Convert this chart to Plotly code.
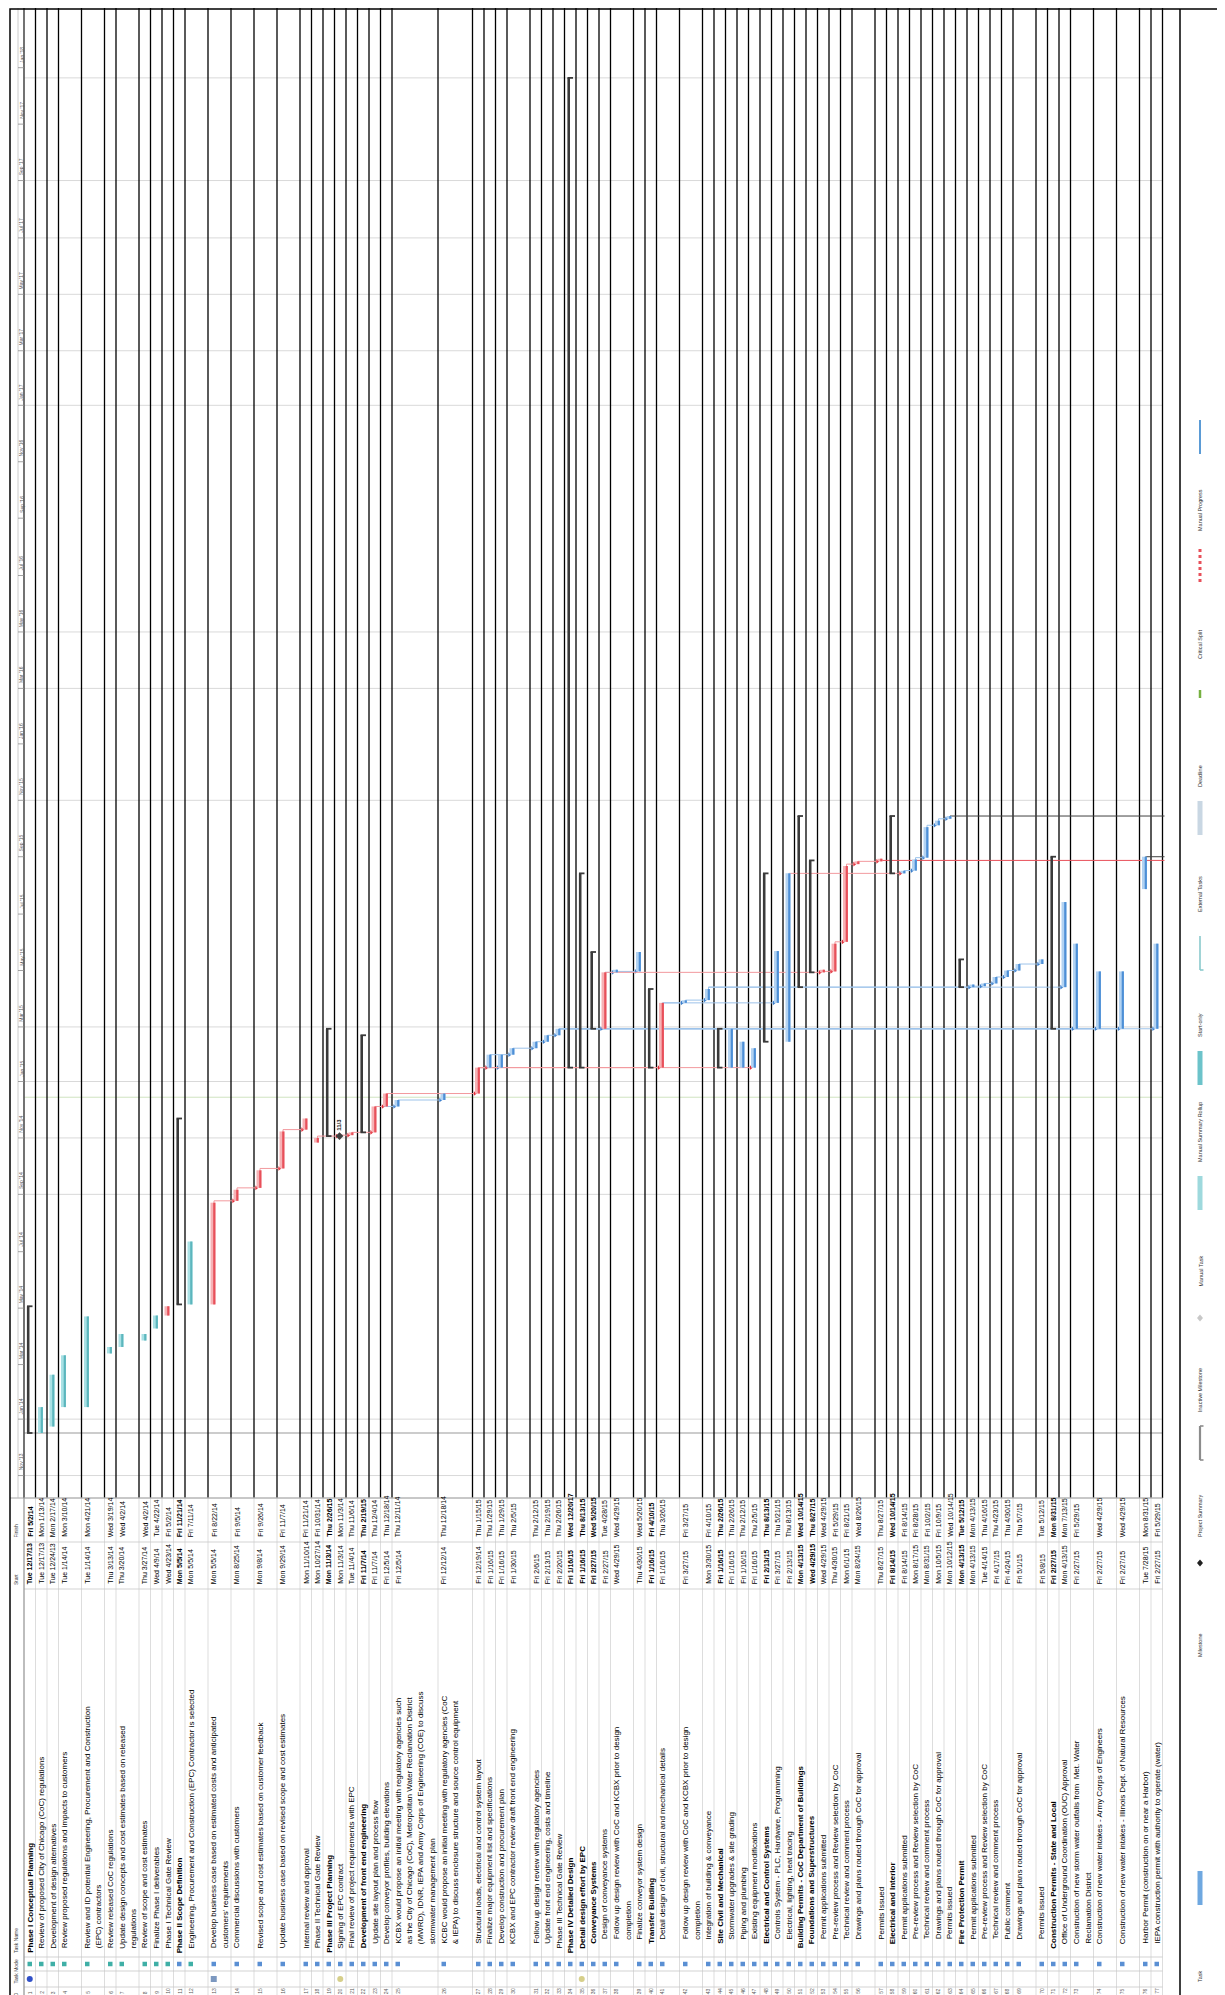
import numpy as np
import pandas as pd
import plotly.graph_objects as go

# ---------------------------------------------------------------- data
task_names = [
    "Phase I Conceptual Planning",
    "Review of proposed City of Chicago (CoC) regulations",
    "Development of design alternatives",
    "Review proposed regulations and impacts to customers",
    "Review and ID potential Engineering, Procurement and Construction\n(EPC) contractors",
    "Review released CoC regulations",
    "Update design concepts and cost estimates based on released\nregulations",
    "Review of scope and cost estimates",
    "Finalize Phase I deliverables",
    "Phase I Technical Gate Review",
    "Phase II Scope Definition",
    "Engineering, Procurement and Construction (EPC) Contractor is selected",
    "Develop business case based on estimated costs and anticipated\ncustomers' requirements",
    "Commercial discussions with customers",
    "Revised scope and cost estimates based on customer feedback",
    "Update business case based on revised scope and cost estimates",
    "Internal review and approval",
    "Phase II Technical Gate Review",
    "Phase III Project Planning",
    "Signing of EPC contract",
    "Final review of project requirements with EPC",
    "Development of front end engineering",
    "Update site layout plan and process flow",
    "Develop conveyor profiles, building elevations",
    "KCBX would propose an initial meeting with regulatory agencies such\nas the City of Chicago (CoC), Metropolitan Water Reclamation District\n(MWRD), IDNR, IEPA and Army Corps of Engineering (COE) to discuss\nstormwater management plan",
    "KCBC would propose an initial meeting with regulatory agencies (CoC\n& IEPA) to discuss enclosure structure and source control equipment",
    "Structural loads, electrical and control system layout",
    "Finalize major equipment list and specifications",
    "Develop construction and procurement plan",
    "KCBX and EPC contractor review draft front end engineering",
    "Follow up design review with regulatory agencies",
    "Update front end engineering, costs and timeline",
    "Phase III Technical Gate Review",
    "Phase IV Detailed Design",
    "Detail design effort by EPC",
    "Conveyance Systems",
    "Design of conveyance systems",
    "Follow up design review with CoC and KCBX prior to design\ncompletion",
    "Finalize conveyor system design",
    "Transfer Building",
    "Detail design of civil, structural and mechanical details",
    "Follow up design review with CoC and KCBX prior to design\ncompletion",
    "Integration of building & conveyance",
    "Site Civil and Mechanical",
    "Stormwater upgrades & site grading",
    "Piping and plumbing",
    "Existing equipment modifications",
    "Electrical and Control Systems",
    "Controls System - PLC, Hardware, Programming",
    "Electrical, lighting, heat tracing",
    "Building Permits - CoC Department of Buildings",
    "Foundations and Superstructures",
    "Permit applications submitted",
    "Pre-review process and Review selection by CoC",
    "Technical review and comment process",
    "Drawings and plans routed through CoC for approval",
    "Permits Issued",
    "Electrical and Interior",
    "Permit applications submitted",
    "Pre-review process and Review selection by CoC",
    "Technical review and comment process",
    "Drawings and plans routed through CoC for approval",
    "Permits issued",
    "Fire Protection Permit",
    "Permit applications submitted",
    "Pre-review process and Review selection by CoC",
    "Technical review and comment process",
    "Public comment",
    "Drawings and plans routed through CoC for approval",
    "Permits issued",
    "Construction Permits - State and Local",
    "Office of Underground Coordination (OUC) Approval",
    "Construction of new storm water outfalls from  Met. Water\nReclamation District",
    "Construction of new water intakes - Army Corps of Engineers",
    "Construction of new water intakes - Illinois Dept. of Natural Resources",
    "Harbor Permit (construction on or near a Harbor)",
    "IEPA construction permit with authority to operate (water)",
]

start_txt = [
    "Tue 12/17/13", "Tue 12/17/13", "Tue 12/24/13", "Tue 1/14/14", "Tue 1/14/14",
    "Thu 3/13/14", "Thu 3/20/14", "Thu 3/27/14", "Wed 4/9/14", "Wed 4/23/14",
    "Mon 5/5/14", "Mon 5/5/14", "Mon 5/5/14", "Mon 8/25/14", "Mon 9/8/14",
    "Mon 9/29/14", "Mon 11/10/14", "Mon 10/27/14", "Mon 11/3/14", "Mon 11/3/14",
    "Tue 11/4/14", "Fri 11/7/14", "Fri 11/7/14", "Fri 12/5/14", "Fri 12/5/14",
    "Fri 12/12/14", "Fri 12/19/14", "Fri 1/16/15", "Fri 1/16/15", "Fri 1/30/15",
    "Fri 2/6/15", "Fri 2/13/15", "Fri 2/20/15", "Fri 1/16/15", "Fri 1/16/15",
    "Fri 2/27/15", "Fri 2/27/15", "Wed 4/29/15", "Thu 4/30/15", "Fri 1/16/15",
    "Fri 1/16/15", "Fri 3/27/15", "Mon 3/30/15", "Fri 1/16/15", "Fri 1/16/15",
    "Fri 1/16/15", "Fri 1/16/15", "Fri 2/13/15", "Fri 3/27/15", "Fri 2/13/15",
    "Mon 4/13/15", "Wed 4/29/15", "Wed 4/29/15", "Thu 4/30/15", "Mon 6/1/15",
    "Mon 8/24/15", "Thu 8/27/15", "Fri 8/14/15", "Fri 8/14/15", "Mon 8/17/15",
    "Mon 8/31/15", "Mon 10/5/15", "Mon 10/12/15", "Mon 4/13/15", "Mon 4/13/15",
    "Tue 4/14/15", "Fri 4/17/15", "Fri 4/24/15", "Fri 5/1/15", "Fri 5/8/15",
    "Fri 2/27/15", "Mon 4/13/15", "Fri 2/27/15", "Fri 2/27/15", "Fri 2/27/15",
    "Tue 7/28/15", "Fri 2/27/15",
]

finish_txt = [
    "Fri 5/2/14", "Mon 1/13/14", "Mon 2/17/14", "Mon 3/10/14", "Mon 4/21/14",
    "Wed 3/19/14", "Wed 4/2/14", "Wed 4/2/14", "Tue 4/22/14", "Fri 5/2/14",
    "Fri 11/21/14", "Fri 7/11/14", "Fri 8/22/14", "Fri 9/5/14", "Fri 9/26/14",
    "Fri 11/7/14", "Fri 11/21/14", "Fri 10/31/14", "Thu 2/26/15", "Mon 11/3/14",
    "Thu 11/6/14", "Thu 2/19/15", "Thu 12/4/14", "Thu 12/18/14", "Thu 12/11/14",
    "Thu 12/18/14", "Thu 1/15/15", "Thu 1/29/15", "Thu 1/29/15", "Thu 2/5/15",
    "Thu 2/12/15", "Thu 2/19/15", "Thu 2/26/15", "Wed 12/20/17", "Thu 8/13/15",
    "Wed 5/20/15", "Tue 4/28/15", "Wed 4/29/15", "Wed 5/20/15", "Fri 4/10/15",
    "Thu 3/26/15", "Fri 3/27/15", "Fri 4/10/15", "Thu 2/26/15", "Thu 2/26/15",
    "Thu 2/12/15", "Thu 2/5/15", "Thu 8/13/15", "Thu 5/21/15", "Thu 8/13/15",
    "Wed 10/14/15", "Thu 8/27/15", "Wed 4/29/15", "Fri 5/29/15", "Fri 8/21/15",
    "Wed 8/26/15", "Thu 8/27/15", "Wed 10/14/15", "Fri 8/14/15", "Fri 8/28/15",
    "Fri 10/2/15", "Fri 10/9/15", "Wed 10/14/15", "Tue 5/12/15", "Mon 4/13/15",
    "Thu 4/16/15", "Thu 4/23/15", "Thu 4/30/15", "Thu 5/7/15", "Tue 5/12/15",
    "Mon 8/31/15", "Mon 7/13/15", "Fri 5/29/15", "Wed 4/29/15", "Wed 4/29/15",
    "Mon 8/31/15", "Fri 5/29/15",
]

# S summary, M manual task, C critical task, N normal task, MS milestone
task_kind = (["S"] + ["M"] * 8 + ["C"] + ["S", "M"] + ["C"] * 6 +
             ["S", "MS", "C", "S", "C", "C", "N", "N", "C"] + ["N"] * 6 +
             ["S", "S", "S", "C", "N", "N", "S", "C", "N", "N", "S", "N", "N", "N",
              "S", "N", "N", "S", "S", "C", "C", "C", "C", "C", "S"] + ["N"] * 5 +
             ["S"] + ["N"] * 6 + ["S"] + ["N"] * 6)

outline_level = ([0] + [1] * 9 + [0] + [1] * 7 + [0, 1, 1, 1] + [2] * 10 + [1] +
                 [0, 1, 2, 3, 3, 3, 2, 3, 3, 3, 2, 3, 3, 3, 2, 3, 3,
                  1, 2, 3, 3, 3, 3, 3, 2, 3, 3, 3, 3, 3, 2, 3, 3, 3, 3, 3, 3,
                  1, 2, 2, 2, 2, 2, 2])

manual_mode_rows = [1, 2, 3, 4, 5, 6, 7, 8, 9, 10, 12]

critical_links = [(13, 14), (14, 15), (15, 16), (16, 17), (18, 20), (20, 21), (21, 23),
                  (23, 24), (24, 27), (27, 28), (27, 41), (27, 47), (37, 53), (53, 54),
                  (54, 55), (55, 56), (56, 57), (50, 59)]
normal_links = [(23, 25), (25, 26), (28, 30), (30, 31), (31, 32), (32, 33), (27, 29),
                (33, 37), (37, 38), (38, 39), (41, 42), (42, 43), (41, 49), (59, 60),
                (60, 61), (61, 62), (62, 63), (43, 65), (65, 66), (66, 67), (67, 68),
                (68, 69), (69, 70), (43, 72), (33, 73), (33, 74), (33, 75), (33, 77)]
# links leaving the printed task list (successors on a later page)
outgoing_links = [(57, "2015-08-28", "C"), (63, "2015-10-15", "S"), (76, "2015-09-01", "S")]

milestone_labels = {20: "11/3"}

timescale_ticks = pd.date_range("2013-11-01", "2018-01-01", freq="2MS")
grid_dates = ["2013-11-01", "2014-01-01", "2014-09-01", "2014-11-01", "2015-01-01",
              "2015-03-01", "2015-11-01", "2016-03-01", "2016-05-01", "2017-01-01",
              "2017-03-01", "2017-05-01", "2017-07-01", "2017-09-01", "2017-12-21"]
status_date = "2014-12-15"
project_start = "2013-12-17"

legend_left = ["Task", "Milestone", "Project Summary", "Inactive Milestone", "Manual Task",
               "Manual Summary Rollup", "Start-only", "External Tasks", "Deadline",
               "Critical Split", "Manual Progress"]
legend_right = ["Split", "Summary", "Inactive Task", "Inactive Summary", "Duration-only",
                "Manual Summary", "Finish-only", "External Milestone", "Critical", "Progress"]

# ---------------------------------------------------------------- layout geometry
W, H = 1225, 1995
row_units = [1, 1, 1, 2, 2, 1, 2, 1, 1, 1, 1, 2, 2, 2, 2, 2, 1, 1, 1, 1, 1, 1, 1, 1, 4, 3,
             1, 1, 1, 2, 1, 1, 1, 1, 1, 1, 1, 2, 1, 1, 2, 2, 1, 1, 1, 1, 1, 1, 1, 1, 1, 1,
             1, 1, 1, 2, 1, 1, 1, 1, 1, 1, 1, 1, 1, 1, 1, 1, 2, 1, 1, 1, 2, 2, 2, 1, 1]
ROW_X0 = 16.0
UNIT = 11.5
cum = np.concatenate([[0], np.cumsum(row_units)[:-1]])
row_top = ROW_X0 + UNIT * cum
row_end = ROW_X0 + UNIT * float(np.sum(row_units))
bar_x = row_top + 5.0

GANTT_BOTTOM = 1490.0
REF_DATE = pd.Timestamp(project_start)
REF_PX = 1425.0
PX_PER_DAY = 0.925

Y_ID, Y_IND, Y_MODE = 1987.0, 1971.0, 1956.0
Y_NAME, Y_START, Y_FINISH = 1946.0, 1577.0, 1530.0
SEP_Y = [1490.0, 1534.0, 1581.0, 1949.0, 1963.0, 1979.0]
LEG_SEP_X, LEG_X1, LEG_X2 = 1172.0, 1192.0, 1212.0
leg_starts = [1975, 1650, 1530, 1405, 1280, 1155, 1030, 905, 780, 652, 524]

FONT = "Liberation Sans, Arial, sans-serif"


def px_to_date(py):
    return REF_DATE + pd.Timedelta(days=(REF_PX - py) / PX_PER_DAY)


def date_to_px(d):
    return REF_PX - (pd.Timestamp(d) - REF_DATE).total_seconds() / 86400.0 * PX_PER_DAY


def P(py):
    return 1.0 - py / H


def ds(d):
    return pd.Timestamp(d).strftime("%Y-%m-%d %H:%M")


def parse(s):
    return pd.to_datetime(s.split()[1], format="%m/%d/%y")


start_dt = [parse(s) for s in start_txt]
finish_dt = [parse(s) for s in finish_txt]
end_dt = [max(f + pd.Timedelta(days=1), s + pd.Timedelta(days=2.8)) for s, f in zip(start_dt, finish_dt)]

fig = go.Figure()
shapes = []
annotations = []


def hline_px(x0, x1, py, color, width=1.0, dash=None):
    shapes.append(dict(type="line", xref="x", yref="paper", x0=x0, x1=x1, y0=P(py), y1=P(py),
                       line=dict(color=color, width=width, dash=dash), layer="below"))


def vline_px(x, py0, py1, color, width=1.0, dash=None, layer="below"):
    shapes.append(dict(type="line", xref="x", yref="paper", x0=x, x1=x, y0=P(py0), y1=P(py1),
                       line=dict(color=color, width=width, dash=dash), layer=layer))


def text_up(x, py, txt, size=8, color="#000000", bold=False, xref="x"):
    t = "<b>%s</b>" % txt if bold else txt
    annotations.append(dict(x=x, y=P(py), xref=xref, yref="paper", text=t, showarrow=False,
                            textangle=-90, xanchor="center", yanchor="bottom", borderpad=0,
                            font=dict(family=FONT, size=size, color=color)))


# ---------------------------------------------------------------- grid / frame
for gd in grid_dates:
    hline_px(ROW_X0, row_end, date_to_px(gd), "#D9D9D9", 1)
hline_px(ROW_X0, row_end, date_to_px(status_date), "#CFE3C0", 1)
hline_px(ROW_X0, row_end, date_to_px(project_start), "#9A9A9A", 1.2)

bounds = list(row_top) + [row_end]
for bx in bounds:
    vline_px(bx, 0, GANTT_BOTTOM, "#000000", 1.3)
    vline_px(bx, GANTT_BOTTOM, 1992, "#D4D4D4", 0.8)
for sy in SEP_Y:
    hline_px(ROW_X0, row_end, sy, "#C8C8C8", 0.8)
hline_px(2, row_end, GANTT_BOTTOM, "#A6A6A6", 1)

# timescale strip
vline_px(10, 0, GANTT_BOTTOM, "#BFBFBF", 0.8)
vline_px(ROW_X0, 0, 1992, "#8C8C8C", 1)
for tk in timescale_ticks:
    ty = date_to_px(tk)
    if 0 < ty < GANTT_BOTTOM:
        hline_px(10, ROW_X0, ty, "#8C8C8C", 0.8)
    ly = ty - 4
    if 30 < ly < GANTT_BOTTOM:
        text_up(13.2, ly, "%s '%s" % (tk.strftime("%b"), tk.strftime("%y")), size=5, color="#595959")

# table headers
for lbl, py in [("ID", 1991), ("Task Mode", 1977), ("Task Name", 1946), ("Start", 1578), ("Finish", 1531)]:
    text_up(7.5, py, lbl, size=5, color="#404040")

# frame & legend separator
shapes.append(dict(type="rect", xref="x", yref="paper", x0=2, x1=1222, y0=P(1993), y1=P(1),
                   line=dict(color="#000000", width=1.5), layer="above"))
vline_px(LEG_SEP_X, 1, 1993, "#000000", 1.5, layer="above")

# ---------------------------------------------------------------- bars


def seg_xy(rows, dx=0.0):
    xs, ys = [], []
    for i in rows:
        xs += [bar_x[i] + dx, bar_x[i] + dx, None]
        ys += [ds(start_dt[i]), ds(end_dt[i]), None]
    return xs, ys


def add_lines(xs, ys, color, width):
    fig.add_trace(go.Scatter(x=xs, y=ys, mode="lines", line=dict(color=color, width=width),
                             hoverinfo="skip", showlegend=False))


# links first (drawn beneath the bars)


def add_links(pairs, color, head):
    lx, ly, hx, hy = [], [], [], []
    for p, s in pairs:
        ip, i_s = p - 1, s - 1
        d = start_dt[i_s]
        xp, xs_ = bar_x[ip] + 1, bar_x[i_s] - 2.6
        lx += [xp, xp, xs_, None]
        ly += [ds(end_dt[ip]), ds(d), ds(d), None]
        hx.append(xs_)
        hy.append(ds(d))
    add_lines(lx, ly, color, 1)
    fig.add_trace(go.Scatter(x=hx, y=hy, mode="markers",
                             marker=dict(symbol="triangle-right", size=4, color=head),
                             hoverinfo="skip", showlegend=False))


add_links(normal_links, "#9DC3EA", "#3C7FCC")
add_links(critical_links, "#F2999E", "#E3303C")
for r, d, kind in outgoing_links:
    col = "#E8505A" if kind == "C" else "#404040"
    add_lines([bar_x[r - 1] + 1, bar_x[r - 1] + 1, row_end + 2],
              [ds(end_dt[r - 1]), ds(d), ds(d)], col, 1)

styles = {"M": ("#A9E1E5", "#5CB6BD"), "C": ("#F6B3B6", "#E8505A"), "N": ("#B3D3F2", "#4D8FD6")}
for kind, (light, dark) in styles.items():
    rows = [i for i, k in enumerate(task_kind) if k == kind]
    xs, ys = seg_xy(rows)
    add_lines(xs, ys, light, 5)
    xs, ys = seg_xy(rows, dx=1.3)
    add_lines(xs, ys, dark, 2.2)

# summary bars with end caps
srows = [i for i, k in enumerate(task_kind) if k == "S"]
xs, ys = seg_xy(srows, dx=-0.8)
add_lines(xs, ys, "#3A3A3A", 2.6)
cx, cy = [], []
for i in srows:
    for d in (start_dt[i], end_dt[i]):
        cx += [bar_x[i] - 2.0, bar_x[i] + 3.5, None]
        cy += [ds(d), ds(d), None]
add_lines(cx, cy, "#3A3A3A", 1.8)

# milestones
mrows = [i for i, k in enumerate(task_kind) if k == "MS"]
fig.add_trace(go.Scatter(x=[bar_x[i] for i in mrows], y=[ds(start_dt[i]) for i in mrows],
                         mode="markers", marker=dict(symbol="diamond", size=6, color="#404040"),
                         hoverinfo="skip", showlegend=False))
for i in mrows:
    annotations.append(dict(x=bar_x[i], y=ds(start_dt[i] + pd.Timedelta(days=4)), xref="x", yref="y",
                            text="<b>%s</b>" % milestone_labels.get(i + 1, ""), showarrow=False,
                            textangle=-90, xanchor="center", yanchor="bottom", borderpad=0,
                            font=dict(family=FONT, size=6, color="#202020")))

# ---------------------------------------------------------------- table text
for i, name in enumerate(task_names):
    bold = task_kind[i] == "S"
    for k, line in enumerate(name.split("\n")):
        text_up(row_top[i] + 5.75 + k * UNIT, Y_NAME - 4.5 * outline_level[i], line, size=8, bold=bold)
    text_up(row_top[i] + 5.75, Y_START, start_txt[i], size=7, bold=bold)
    text_up(row_top[i] + 5.75, Y_FINISH, finish_txt[i], size=7, bold=bold)
    text_up(row_top[i] + 5.75, Y_ID, str(i + 1), size=5, color="#595959")

# task-mode icons and indicators
mode_x = [row_top[i] + 5.75 for i in range(len(task_names))]
mode_col = ["#3FAFA6" if (i + 1) in manual_mode_rows else "#5A8FD3" for i in range(len(task_names))]
fig.add_trace(go.Scatter(x=mode_x, y=[Y_MODE] * len(mode_x), yaxis="y2", mode="markers",
                         marker=dict(symbol="square", size=4.5, color=mode_col),
                         hoverinfo="skip", showlegend=False))
ind_rows = {1: ("circle", "#3050C8"), 13: ("square", "#7C98C0"), 20: ("circle", "#D6CF8A"), 35: ("circle", "#D6CF8A")}
fig.add_trace(go.Scatter(x=[row_top[r - 1] + 5.75 for r in ind_rows], y=[Y_IND] * len(ind_rows), yaxis="y2",
                         mode="markers",
                         marker=dict(symbol=[v[0] for v in ind_rows.values()], size=6,
                                     color=[v[1] for v in ind_rows.values()]),
                         hoverinfo="skip", showlegend=False))

# ---------------------------------------------------------------- legend
swatch_style = {
    "Task": ("bar", "#6FA8E0"), "Split": ("dot", "#6FA8E0"), "Milestone": ("diamond", "#202020"),
    "Summary": ("bracket", "#303030"), "Project Summary": ("bracket", "#8C8C8C"),
    "Inactive Task": ("bar", "#EDEDED"), "Inactive Milestone": ("diamond", "#C8C8C8"),
    "Inactive Summary": ("bracket", "#D0D0D0"), "Manual Task": ("bar", "#9ED9DD"),
    "Duration-only": ("bar", "#C9ECEF"), "Manual Summary Rollup": ("bar", "#6CC3CA"),
    "Manual Summary": ("bracket", "#303030"), "Start-only": ("start", "#8AC9CC"),
    "Finish-only": ("finish", "#303030"), "External Tasks": ("bar", "#C9D7E3"),
    "External Milestone": ("diamond", "#A6B6C4"), "Deadline": ("deadline", "#76B041"),
    "Critical": ("bar", "#F07C84"), "Critical Split": ("dot", "#E8505A"),
    "Progress": ("thin", "#2F2F2F"), "Manual Progress": ("thin", "#5B9BD5"),
}


def draw_swatch(label, x, ybot):
    kind, col = swatch_style[label]
    y0, y1 = ybot - 78, ybot - 112
    if kind == "bar":
        vline_px(x, y0, y1, col, 5, layer="above")
    elif kind == "dot":
        vline_px(x, y0, y1, col, 3, dash="dot", layer="above")
    elif kind == "thin":
        vline_px(x, y0, y1, col, 2, layer="above")
    elif kind == "bracket":
        vline_px(x, y0, y1, col, 2.2, layer="above")
        hline_px(x, x + 3.5, y0, col, 1.6)
        hline_px(x, x + 3.5, y1, col, 1.6)
    elif kind in ("start", "finish"):
        vline_px(x, y0 + 10, y1 + 10, col, 1.6, layer="above")
        yc = y0 + 10 if kind == "start" else y1 + 10
        hline_px(x, x + 3.5, yc, col, 1.6)
    elif kind == "deadline":
        vline_px(x, y0 - 12, y0 - 20, col, 2.5, layer="above")
    elif kind == "diamond":
        yc = (y0 + y1) / 2.0
        path = "M %f,%f L %f,%f L %f,%f L %f,%f Z" % (x - 3, P(yc), x, P(yc - 3.5), x + 3, P(yc), x, P(yc + 3.5))
        shapes.append(dict(type="path", xref="x", yref="paper", path=path,
                           fillcolor=col, line=dict(width=0), layer="above"))


for lbl, yb in zip(legend_left, leg_starts):
    text_up(LEG_X1, yb, lbl, size=5.5, color="#303030")
    draw_swatch(lbl, LEG_X1, yb)
for lbl, yb in zip(legend_right, leg_starts):
    text_up(LEG_X2, yb, lbl, size=5.5, color="#303030")
    draw_swatch(lbl, LEG_X2, yb)

# ---------------------------------------------------------------- axes
fig.update_layout(
    width=W, height=H, margin=dict(l=0, r=0, t=0, b=0),
    paper_bgcolor="white", plot_bgcolor="rgba(0,0,0,0)",
    xaxis=dict(range=[0, W], visible=False, fixedrange=True),
    yaxis=dict(type="date", range=[ds(px_to_date(GANTT_BOTTOM)), ds(px_to_date(0))],
               domain=[1 - GANTT_BOTTOM / H, 1], visible=False, fixedrange=True),
    yaxis2=dict(range=[H, GANTT_BOTTOM], domain=[0, 1 - GANTT_BOTTOM / H], anchor="x",
                visible=False, fixedrange=True),
    shapes=shapes, annotations=annotations, showlegend=False,
)

fig.write_html("out.html")
